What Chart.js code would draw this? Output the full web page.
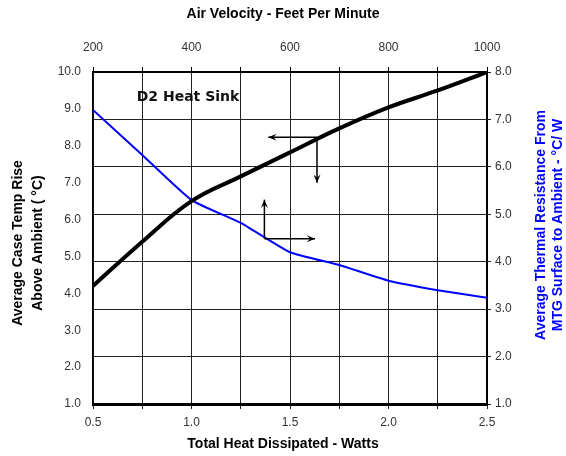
<!DOCTYPE html>
<html>
<head>
<meta charset="utf-8">
<script src="https://cdn.jsdelivr.net/npm/chart.js@4.4.1/dist/chart.umd.min.js"></script>
<style>
  body { margin: 0; background: #fff; }
  canvas { display: block; }
</style>
</head>
<body>
<canvas id="grafico" width="566" height="456"></canvas>
<script>
// dados
const watts = [0.5, 0.75, 1.0, 1.25, 1.5, 1.75, 2.0, 2.25, 2.5];
const caseTempRise = [4.2, 5.4, 6.5, 7.17, 7.82, 8.47, 9.04, 9.5, 10.0];
const thermalResistance = [7.2, 6.25, 5.3, 4.82, 4.2, 3.93, 3.6, 3.4, 3.24];
const velocityRange = [200, 1000];

// setas de leitura (em unidades dos eixos)
const setaTemp = { x: 1.637, y: 8.23, xEnd: 1.39, yEnd: 7.0 };
const setaRes = { x: 1.37, y: 5.48, xEnd: 1.627, yEnd: 6.54 };

const fonte = '"Liberation Sans", Arial, sans-serif';

function seta(c, x1, y1, x2, y2) {
  c.beginPath();
  c.moveTo(x1, y1);
  c.lineTo(x2, y2);
  c.stroke();
  const ang = Math.atan2(y2 - y1, x2 - x1);
  c.beginPath();
  c.moveTo(x2, y2);
  c.lineTo(x2 - 9 * Math.cos(ang - 0.4), y2 - 9 * Math.sin(ang - 0.4));
  c.lineTo(x2 - 5 * Math.cos(ang), y2 - 5 * Math.sin(ang));
  c.lineTo(x2 - 9 * Math.cos(ang + 0.4), y2 - 9 * Math.sin(ang + 0.4));
  c.closePath();
  c.fill();
}

const anotacoes = {
  id: 'anotacoes',
  beforeDraw(chart) {
    const c = chart.ctx;
    c.save();
    c.fillStyle = '#fff';
    c.fillRect(0, 0, chart.width, chart.height);
    c.restore();
  },
  afterDraw(chart) {
    const c = chart.ctx;
    const x = chart.scales.x, y = chart.scales.y;
    c.save();
    c.textAlign = 'center';
    c.textBaseline = 'middle';
    c.fillStyle = '#000';
    c.font = 'bold 14px ' + fonte;
    c.fillText('Air Velocity - Feet Per Minute', 283, 14);
    c.fillText('Total Heat Dissipated - Watts', 283, 444);

    // título esquerdo
    c.save();
    c.translate(28, 243);
    c.rotate(-Math.PI / 2);
    c.fillText('Average Case Temp Rise', 0, -10);
    c.fillText('Above Ambient ( °C)', 0, 10);
    c.restore();

    // título direito (azul)
    c.save();
    c.fillStyle = '#0000ff';
    c.translate(549, 225);
    c.rotate(-Math.PI / 2);
    c.fillText('Average Thermal Resistance From', 0, -8);
    c.fillText('MTG Surface to Ambient - °C/ W', 0, 9);
    c.restore();

    c.font = 'bold 14px "DejaVu Sans", Verdana, sans-serif';
    c.fillStyle = '#111';
    c.fillText('D2 Heat Sink', 188, 97);

    // setas
    c.strokeStyle = '#000';
    c.fillStyle = '#000';
    c.lineWidth = 1.5;
    let px = x.getPixelForValue(setaTemp.x), py = y.getPixelForValue(setaTemp.y);
    seta(c, px, py, x.getPixelForValue(setaTemp.xEnd), py);
    seta(c, px, py, px, y.getPixelForValue(setaTemp.yEnd));
    px = x.getPixelForValue(setaRes.x); py = y.getPixelForValue(setaRes.y);
    seta(c, px, py, px, y.getPixelForValue(setaRes.yEnd));
    seta(c, px, py, x.getPixelForValue(setaRes.xEnd), py);
    c.restore();
  }
};

const tickFont = { family: fonte, size: 12 };

const data = {
  labels: watts,
  datasets: [{
    label: 'Case Temp Rise',
    data: watts.map((w, i) => ({ x: w, y: caseTempRise[i] })),
    borderColor: '#000',
    borderWidth: 4,
    pointRadius: 0,
    tension: 0.4,
    yAxisID: 'y'
  }, {
    label: 'Thermal Resistance',
    data: watts.map((w, i) => ({ x: w, y: thermalResistance[i] })),
    borderColor: '#0000ff',
    borderWidth: 2,
    pointRadius: 0,
    tension: 0.15,
    yAxisID: 'y2'
  }]
};

const configuracao = {
  type: 'line',
  data: data,
  options: {
    responsive: false,
    animation: false,
    layout: { padding: 0 },
    plugins: {
      legend: { display: false },
      tooltip: { enabled: false }
    },
    scales: {
      x: {
        type: 'linear',
        position: 'bottom',
        min: 0.5, max: 2.5,
        afterFit: s => { s.height = 52; },
        ticks: {
          stepSize: 0.25, autoSkip: false, maxRotation: 0,
          color: '#333', font: tickFont, padding: 6,
          callback: v => Math.abs(v * 2 - Math.round(v * 2)) < 1e-6 ? v.toFixed(1) : ''
        },
        grid: { color: '#222', lineWidth: 1, tickLength: 5 },
        border: { color: '#000', width: 3 }
      },
      x2: {
        type: 'linear',
        position: 'top',
        min: velocityRange[0], max: velocityRange[1],
        afterFit: s => { s.height = 72; },
        ticks: {
          stepSize: 100, autoSkip: false, maxRotation: 0,
          color: '#333', font: tickFont, padding: 12,
          callback: v => v % 200 === 0 ? v : ''
        },
        grid: { drawOnChartArea: false, color: '#000', tickLength: 5 },
        border: { color: '#000', width: 2 }
      },
      y: {
        position: 'left',
        min: 1, max: 10,
        afterFit: s => { s.width = 93; },
        ticks: {
          stepSize: 1, color: '#333', font: tickFont, padding: 12,
          callback: v => v.toFixed(1)
        },
        grid: { drawOnChartArea: false, drawTicks: false },
        border: { color: '#000', width: 1.5 }
      },
      y2: {
        position: 'right',
        min: 1, max: 8,
        afterFit: s => { s.width = 79; },
        ticks: {
          stepSize: 1, color: '#333', font: tickFont, padding: 4,
          callback: v => v.toFixed(1)
        },
        grid: { color: '#222', lineWidth: 1, tickLength: 4 },
        border: { color: '#000', width: 2 }
      }
    }
  },
  plugins: [anotacoes]
};

const ctx = document.getElementById('grafico').getContext('2d');
const myChart = new Chart(ctx, configuracao);
</script>
</body>
</html>
